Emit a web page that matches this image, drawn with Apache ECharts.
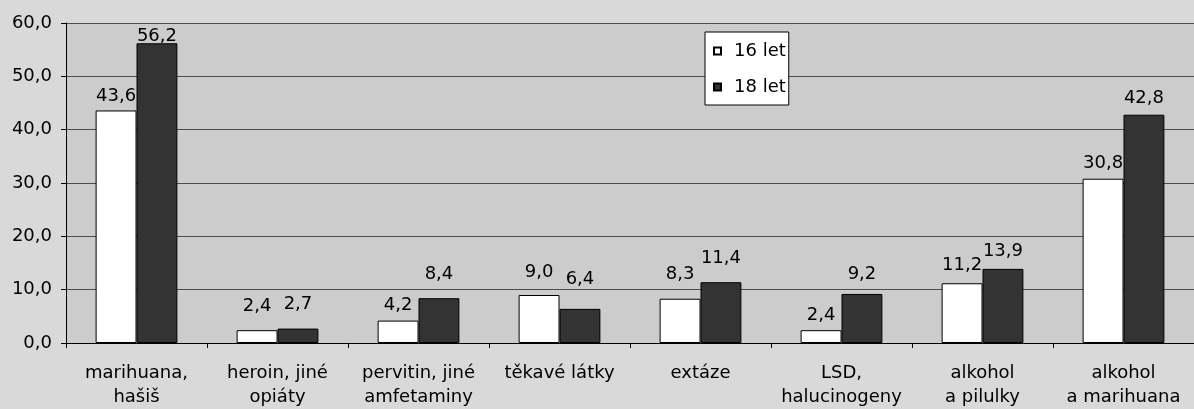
<!DOCTYPE html>
<html><head><meta charset="utf-8">
<script src="https://cdn.jsdelivr.net/npm/echarts@6/dist/echarts.min.js"></script>
<style>html,body{margin:0;padding:0;background:#d9d9d9}#c{width:1194px;height:409px}</style>
</head><body><div id="c"></div>
<script>
const categories = ['marihuana,\nhašiš','heroin, jiné\nopiáty','pervitin, jiné\namfetaminy','těkavé látky','extáze','LSD,\nhalucinogeny','alkohol\na pilulky','alkohol\na marihuana'];
const seriesNames = ['16 let','18 let'];
const values16 = [43.6, 2.4, 4.2, 9.0, 8.3, 2.4, 11.2, 30.8];
const values18 = [56.2, 2.7, 8.4, 6.4, 11.4, 9.2, 13.9, 42.8];
const yTicks = {min: 0, max: 60, interval: 10};

// label placement (style only): distance in px between bar top and its value label, as hand-placed in the reference
const labelGap16 = [5, 15, 6, 14, 15, 6, 9, 6];
const labelGap18 = [-2, 15, 15, 21, 15, 11, 9, 7];

const FONT = 'DejaVu Sans';
const fmt = v => Number(v).toFixed(1).replace('.', ',');
const chart = echarts.init(document.getElementById('c'), null, {renderer: 'canvas'});
const lbl = {show: true, position: 'top', distance: 5, color: '#000', fontFamily: FONT, fontSize: 18,
  formatter: p => fmt(p.value)};
const withGaps = (vals, gaps) => vals.map((v, i) => ({value: v, label: {distance: gaps[i]}}));
chart.setOption({
  backgroundColor: '#d9d9d9',
  animation: false,
  textStyle: {fontFamily: FONT},
  grid: {left: 66, top: 23, right: -13, bottom: 66, show: true, backgroundColor: '#cccccc', borderWidth: 0, containLabel: false},
  legend: {
    orient: 'vertical', left: 705, top: 32,
    backgroundColor: '#ffffff', borderColor: '#000', borderWidth: 1,
    padding: [10, 3, 9, 8], itemWidth: 7, itemHeight: 7, itemGap: 18,
    icon: 'rect',
    textStyle: {fontFamily: FONT, fontSize: 18, color: '#000', padding: [0, 0, 0, 8]},
    data: seriesNames
  },
  xAxis: {
    type: 'category', data: categories,
    axisLine: {lineStyle: {color: '#000', width: 1}},
    axisTick: {show: true, length: 5, lineStyle: {color: '#000'}},
    axisLabel: {interval: 0, color: '#000', fontFamily: FONT, fontSize: 18, lineHeight: 24, margin: 18}
  },
  yAxis: {
    type: 'value', min: yTicks.min, max: yTicks.max, interval: yTicks.interval,
    axisLine: {show: true, lineStyle: {color: '#000', width: 1}},
    axisTick: {show: true, length: 5, lineStyle: {color: '#000'}},
    axisLabel: {color: '#000', fontFamily: FONT, fontSize: 18, margin: 14, formatter: fmt},
    splitLine: {show: true, lineStyle: {color: '#4d4d4d', width: 1}}
  },
  series: [
    {name: seriesNames[0], type: 'bar', data: withGaps(values16, labelGap16), barGap: '0%', barCategoryGap: '42%',
     itemStyle: {color: '#ffffff', borderColor: '#000', borderWidth: 1}, label: lbl},
    {name: seriesNames[1], type: 'bar', data: withGaps(values18, labelGap18),
     itemStyle: {color: '#333333', borderColor: '#000', borderWidth: 1}, label: lbl}
  ]
});
</script></body></html>
